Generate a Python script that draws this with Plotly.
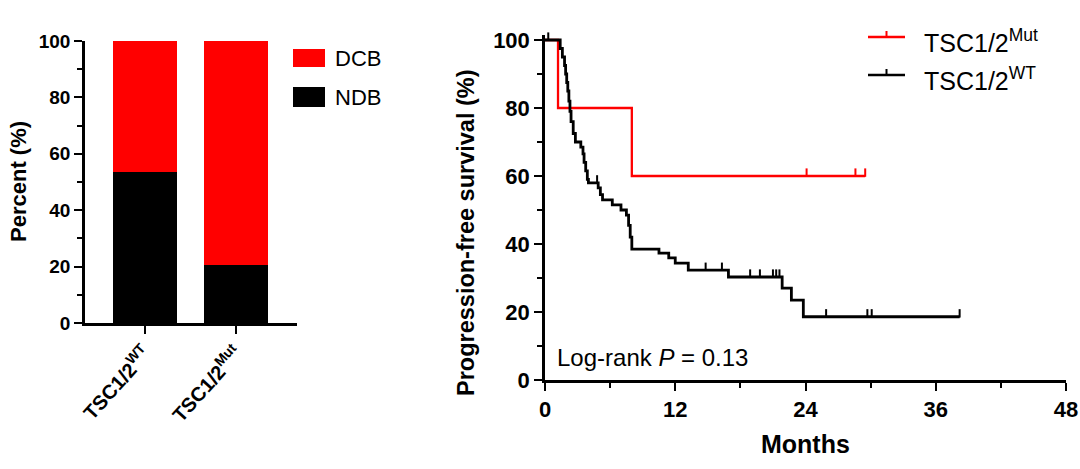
import plotly.graph_objects as go

# ---------------- data ----------------
groups = ["TSC1/2<sup>WT</sup>", "TSC1/2<sup>Mut</sup>"]
ndb_pct = [53.6, 20.6]
dcb_pct = [46.4, 79.4]

# Kaplan-Meier: event times (months) and survival (%) after each event
wt_event_time = [1.4, 1.6, 1.8, 1.9, 2.0, 2.1, 2.2, 2.3, 2.4, 2.6, 2.8, 3.3, 3.5, 3.6,
                 3.75, 3.9, 4.0, 4.9, 5.1, 5.3, 6.2, 7.0, 7.5, 7.7, 7.85, 8.0, 10.5,
                 11.4, 12.0, 13.2, 16.9, 21.85, 22.7, 23.8]
wt_event_surv = [97.5, 95, 92.5, 90, 87.5, 85, 82, 79, 76, 72.5, 70, 68.5, 66.5, 64,
                 61.5, 59, 58, 56.5, 54.5, 53, 51.5, 50, 48.5, 45.5, 42, 38.5, 37.3,
                 35.9, 34.4, 32.3, 30.3, 27.0, 23.5, 18.6]
wt_censor_time = [0.3, 4.8, 14.8, 16.3, 18.9, 19.8, 21.0, 21.3, 21.6, 25.9, 29.7, 30.1, 38.2]

mut_event_time = [1.2, 8.0]
mut_event_surv = [80, 60]
mut_censor_time = [24.1, 28.6, 29.5]

x_ticks = [0, 12, 24, 36, 48]
y_ticks = [0, 20, 40, 60, 80, 100]

# ---------------- helpers ----------------
W, H = 1080, 469
def px(x):
    return x / W
def py(y):
    return 1 - y / H

def km_path(ev_t, ev_s, cens_t):
    xs, ys = [0], [100]
    for t, s in zip(ev_t, ev_s):
        xs.append(t); ys.append(s)
    last = max(cens_t + ev_t)
    xs.append(last); ys.append(ev_s[-1])
    return xs, ys

def level_at(t, ev_t, ev_s):
    lv = 100
    for et, es in zip(ev_t, ev_s):
        if et <= t:
            lv = es
    return lv

FONT = "Arial, Liberation Sans, Helvetica, sans-serif"
RED = "#ff0000"

fig = go.Figure()

# ---------------- left: stacked bars ----------------
fig.add_trace(go.Bar(x=groups, y=ndb_pct, marker=dict(color="black", line=dict(width=0)),
                     width=0.70, showlegend=False, name="NDB", xaxis="x", yaxis="y"))
fig.add_trace(go.Bar(x=groups, y=dcb_pct, marker=dict(color=RED, line=dict(width=0)),
                     width=0.70, showlegend=False, name="DCB", xaxis="x", yaxis="y"))

# ---------------- right: KM curves ----------------
for ev_t, ev_s, ct, col, lw, nm in [
    (mut_event_time, mut_event_surv, mut_censor_time, RED, 2.3, "Mut"),
    (wt_event_time, wt_event_surv, wt_censor_time, "black", 2.8, "WT"),
]:
    xs, ys = km_path(ev_t, ev_s, ct)
    fig.add_trace(go.Scatter(x=xs, y=ys, mode="lines", line=dict(color=col, width=lw, shape="hv"),
                             showlegend=False, name=nm, xaxis="x2", yaxis="y2"))
    cy = [level_at(t, ev_t, ev_s) + 1.0 for t in ct]
    fig.add_trace(go.Scatter(x=ct, y=cy, mode="markers",
                             marker=dict(symbol="line-ns", size=6, line=dict(color=col, width=2)),
                             showlegend=False, xaxis="x2", yaxis="y2", cliponaxis=False))

axis_common = dict(showline=True, linecolor="black", linewidth=2.5, ticks="outside",
                   ticklen=8, tickwidth=2, tickcolor="black", showgrid=False, zeroline=False,
                   mirror=False, automargin=False)

def bold(size):
    return dict(size=size, family=FONT, weight="bold", color="black")

fig.update_layout(
    width=W, height=H, margin=dict(l=0, r=0, t=0, b=0),
    plot_bgcolor="white", paper_bgcolor="white", barmode="stack", bargap=0,
    font=dict(family=FONT, color="black"),
    xaxis=dict(domain=[px(85), px(297)], range=[-0.66, 1.67], type="category",
               tickangle=-48, tickfont=bold(20), anchor="y", **axis_common),
    yaxis=dict(domain=[py(323), py(41)], range=[0, 100], tickvals=y_ticks,
               tickfont=bold(19),
               minor=dict(ticks="outside", ticklen=5, tickwidth=2, dtick=10, tickcolor="black"),
               anchor="x", **axis_common),
    xaxis2=dict(domain=[px(545), px(1066)], range=[0, 48], tickvals=x_ticks,
                tickfont=bold(22),
                minor=dict(ticks="outside", ticklen=5, tickwidth=2, dtick=6, tickcolor="black"),
                anchor="y2", **axis_common),
    yaxis2=dict(domain=[py(380), py(40 - 1.5 * 3.4)], range=[0, 101.5], tickvals=y_ticks,
                tickfont=bold(22),
                minor=dict(ticks="outside", ticklen=5, tickwidth=2, dtick=10, tickcolor="black"),
                anchor="x2", **axis_common),
)

shapes = []
annotations = []

# left legend
shapes.append(dict(type="rect", xref="paper", yref="paper", x0=px(293), x1=px(325),
                   y0=py(67), y1=py(49), fillcolor=RED, line=dict(width=0)))
shapes.append(dict(type="rect", xref="paper", yref="paper", x0=px(293), x1=px(325),
                   y0=py(107), y1=py(87), fillcolor="black", line=dict(width=0)))
annotations.append(dict(text="DCB", xref="paper", yref="paper", x=px(333), y=py(59),
                        xanchor="left", yanchor="middle", showarrow=False,
                        font=dict(size=22, family=FONT)))
annotations.append(dict(text="NDB", xref="paper", yref="paper", x=px(333), y=py(97),
                        xanchor="left", yanchor="middle", showarrow=False,
                        font=dict(size=22, family=FONT)))

# right legend
for yl, col, lab in [(37, RED, "TSC1/2<sup>Mut</sup>"), (75, "black", "TSC1/2<sup>WT</sup>")]:
    shapes.append(dict(type="line", xref="paper", yref="paper", x0=px(868), x1=px(905),
                       y0=py(yl), y1=py(yl), line=dict(color=col, width=2.5)))
    shapes.append(dict(type="line", xref="paper", yref="paper", x0=px(886.5), x1=px(886.5),
                       y0=py(yl), y1=py(yl - 6), line=dict(color=col, width=2)))
    annotations.append(dict(text=lab, xref="paper", yref="paper", x=px(922), y=py(yl + 4),
                            xanchor="left", yanchor="middle", showarrow=False,
                            font=dict(size=25, family=FONT)))

# axis titles
annotations.append(dict(text="<b>Percent (%)</b>", xref="paper", yref="paper", x=px(18), y=py(182),
                        textangle=-90, showarrow=False, xanchor="center", yanchor="middle",
                        font=dict(size=22, family=FONT)))
annotations.append(dict(text="<b>Progression-free survival (%)</b>", xref="paper", yref="paper",
                        x=px(466), y=py(233), textangle=-90, showarrow=False,
                        xanchor="center", yanchor="middle", font=dict(size=23.5, family=FONT)))
annotations.append(dict(text="<b>Months</b>", xref="paper", yref="paper", x=px(805), y=py(444),
                        showarrow=False, xanchor="center", yanchor="middle",
                        font=dict(size=25, family=FONT)))
annotations.append(dict(text="Log-rank <i>P</i> = 0.13", xref="paper", yref="paper",
                        x=px(555), y=py(357), showarrow=False, xanchor="left", yanchor="middle",
                        font=dict(size=24, family=FONT)))

fig.update_layout(shapes=shapes, annotations=annotations)
fig.write_html("out.html", config={"displayModeBar": False},
               post_script="document.body.style.margin='0';document.body.style.padding='0';")
